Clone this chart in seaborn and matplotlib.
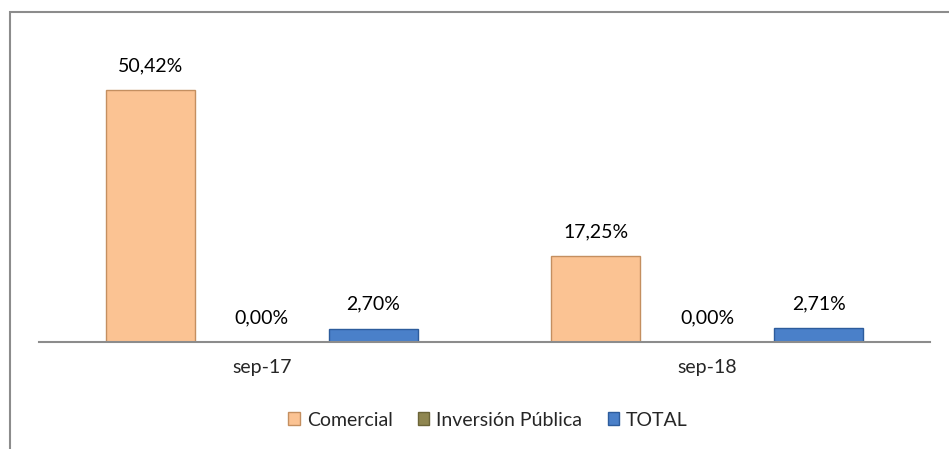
import pandas as pd
import matplotlib
matplotlib.use("Agg")
import matplotlib.pyplot as plt
import seaborn as sns
from matplotlib.patches import Rectangle

# Data
periods = ["sep-17", "sep-18"]
series = ["Comercial", "Inversión Pública", "TOTAL"]
comercial = [50.42, 17.25]
inversion_publica = [0.00, 0.00]
total = [2.70, 2.71]

face_colors = {"Comercial": "#FBC393", "Inversión Pública": "#8F8650", "TOTAL": "#4A80C9"}
edge_colors = {"Comercial": "#C48F60", "Inversión Pública": "#6B6438", "TOTAL": "#2D5C9C"}

df = pd.DataFrame({
    "Periodo": periods * 3,
    "Serie": [series[0]] * 2 + [series[1]] * 2 + [series[2]] * 2,
    "Valor": comercial + inversion_publica + total,
})

sns.set_style("white")
plt.rcParams["font.family"] = ["Lato", "DejaVu Sans"]
fs = 14

fig = plt.figure(figsize=(9.49, 4.49), dpi=100)
ax = fig.add_axes([39 / 949, (449 - 342) / 449, (930 - 39) / 949, 300 / 449])

sns.barplot(data=df, x="Periodo", y="Valor", hue="Serie", order=periods,
            hue_order=series, palette=face_colors, width=0.75, gap=0,
            saturation=1, ax=ax)

# narrow the bars, keep their centres
for name, cont in zip(series, ax.containers):
    for bar, v in zip(cont, df.loc[df["Serie"] == name, "Valor"]):
        cx = bar.get_x() + bar.get_width() / 2
        bar.set_width(0.2)
        bar.set_x(cx - 0.1)
        bar.set_edgecolor(edge_colors[name])
        bar.set_linewidth(1.0 if v > 0 else 0)
        ax.annotate(f"{v:.2f}%".replace(".", ","), (cx, v),
                    xytext=(0, 17.5), textcoords="offset points",
                    ha="center", va="center", fontsize=fs, color="black")

ax.set_xlim(-0.5, 1.5)
ax.set_ylim(0, 60)
ax.set_xlabel("")
ax.set_ylabel("")
ax.set_yticks([])
ax.tick_params(axis="x", length=0, pad=12, labelsize=fs)
for s in ["left", "right", "top"]:
    ax.spines[s].set_visible(False)
ax.spines["bottom"].set_color("#8C8C8C")
ax.spines["bottom"].set_linewidth(1.5)

sns.move_legend(ax, "center", bbox_to_anchor=(488 / 949, (449 - 420) / 449),
                bbox_transform=fig.transFigure, ncol=3, frameon=False,
                title=None, fontsize=fs, handlelength=0.6, handleheight=0.6,
                handletextpad=0.35, columnspacing=1.3)
for h, name in zip(ax.get_legend().legend_handles, series):
    h.set_edgecolor(edge_colors[name])

# outer chart frame (runs off the right and bottom edges)
fig.patches.append(Rectangle((9.5 / 949, -0.2), 1.2, (449 - 11.5) / 449 + 0.2,
                             transform=fig.transFigure, fill=False,
                             edgecolor="#8C8C8C", linewidth=1.5))

fig.savefig("out.png", dpi=100)
